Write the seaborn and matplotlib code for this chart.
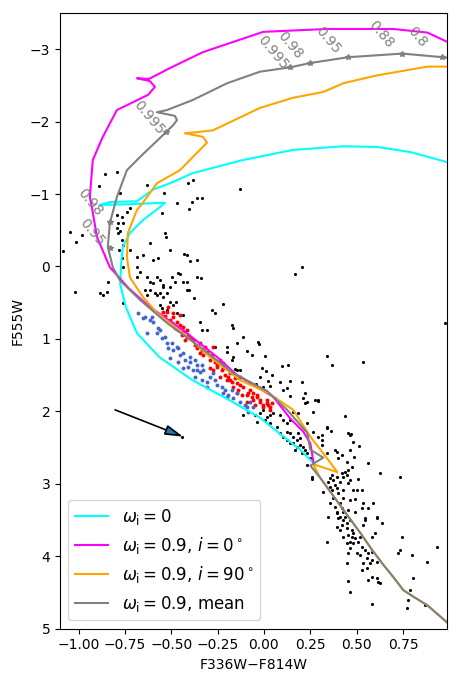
import numpy as np
import pandas as pd
import matplotlib
matplotlib.use("Agg")
import matplotlib.pyplot as plt
import seaborn as sns

# isochrones: colour F336W-F814W, magnitude F555W
cyan_col = [0.99, 0.79, 0.611, 0.428, 0.158, -0.113, -0.383, -0.507, -0.599, -0.685, -0.831, -0.885,
            -0.723, -0.534, -0.561, -0.653, -0.723, -0.761, -0.77, -0.775, -0.745, -0.685, -0.565,
            -0.385, -0.19, -0.02, 0.13, 0.196, 0.262]
cyan_mag = [-1.44, -1.58, -1.65, -1.66, -1.61, -1.47, -1.29, -1.15, -1.06, -0.90, -0.89, -0.85,
            -0.86, -0.88, -0.82, -0.64, -0.46, -0.27, -0.05, 0.25, 0.56, 0.92, 1.25,
            1.57, 1.84, 2.09, 2.40, 2.53, 2.70]

mag_col = [0.99, 0.882, 0.698, 0.342, -0.004, -0.167, -0.329, -0.507, -0.620, -0.685, -0.615, -0.588,
           -0.625, -0.793, -0.869, -0.923, -0.939, -0.928, -0.901, -0.831, -0.73, -0.615, -0.436,
           -0.253, -0.145, 0.05, 0.142, 0.212, 0.25, 0.267]
mag_mag = [-3.10, -3.23, -3.28, -3.28, -3.24, -3.10, -2.96, -2.74, -2.59, -2.60, -2.56, -2.48,
           -2.37, -2.16, -1.79, -1.47, -0.96, -0.82, -0.41, 0.01, 0.30, 0.56, 0.88,
           1.25, 1.50, 1.80, 2.10, 2.28, 2.44, 2.70]

org_col = [0.99, 0.882, 0.612, 0.428, 0.32, 0.158, -0.021, -0.275, -0.345, -0.426, -0.329, -0.307,
           -0.453, -0.577, -0.653, -0.685, -0.734, -0.739, -0.723, -0.653, -0.577, -0.436, -0.291,
           -0.129, 0.017, 0.158, 0.25, 0.32, 0.396, 0.266, 0.304, 0.358, 0.428, 0.52, 0.585, 0.644,
           0.698, 0.752, 0.806, 0.882, 0.99]
org_mag = [-2.76, -2.76, -2.64, -2.53, -2.41, -2.33, -2.19, -1.88, -1.86, -1.84, -1.79, -1.71,
           -1.33, -1.15, -0.88, -0.78, -0.46, -0.13, 0.15, 0.42, 0.64, 0.92, 1.25,
           1.57, 1.74, 1.98, 2.35, 2.58, 2.84, 2.73, 2.92, 3.11, 3.36, 3.68, 3.92, 4.12,
           4.29, 4.47, 4.56, 4.68, 4.92]

gray_col = [0.99, 0.963, 0.747, 0.455, 0.25, 0.142, -0.021, -0.199, -0.383, -0.523, -0.577, -0.48,
            -0.469, -0.49, -0.534, -0.669, -0.739, -0.793, -0.831, -0.842, -0.815, -0.777, -0.669,
            -0.523, -0.345, -0.167, 0.017, 0.125, 0.234, 0.25, 0.32, 0.25, 0.304, 0.358, 0.428,
            0.52, 0.585, 0.644, 0.698, 0.752, 0.806, 0.882, 0.99]
gray_mag = [-2.88, -2.89, -2.94, -2.89, -2.81, -2.75, -2.69, -2.53, -2.30, -2.16, -2.13, -2.08,
            -2.02, -1.95, -1.84, -1.51, -1.33, -0.96, -0.60, -0.27, 0.01, 0.19, 0.46,
            0.78, 1.11, 1.47, 1.72, 1.98, 2.30, 2.53, 2.64, 2.75, 2.92, 3.11, 3.36,
            3.68, 3.92, 4.12, 4.29, 4.47, 4.56, 4.68, 4.92]

# marked points on the mean isochrone and their labels
mark_col = [0.142, 0.25, 0.455, 0.747, 0.963, -0.528, -0.831, -0.831]
mark_mag = [-2.75, -2.81, -2.89, -2.94, -2.89, -1.86, -0.61, -0.26]
lab_col = [0.05, 0.142, 0.347, 0.633, 0.828, -0.62, -0.939, -0.928]
lab_mag = [-2.95, -3.05, -3.13, -3.20, -3.17, -2.05, -0.89, -0.48]
lab_txt = ["0.995", "0.98", "0.95", "0.88", "0.8", "0.995", "0.98", "0.95"]

# cluster members
bk_col = [-0.858, -0.793, -0.890, -0.777, -0.631, -0.539, -0.410, -0.383, -0.129, -0.469, -0.550, -0.404,
          -0.361, -0.334, -0.388, -0.739, -0.723, -0.793, -0.766, -0.788, -0.761, -0.793, -0.788, -0.777,
          -1.047, -0.982, -1.014, -1.085, -0.766, -0.761, -0.782, -0.723, -0.685, -0.653, -0.599, -0.572,
          -0.615, -0.507, -0.534, -0.528, -0.415, -0.361, -0.766, -0.761, -0.685, -0.685, -0.669, -0.631,
          -0.615, -0.577, -0.561, -0.545, -0.496, -0.480, -0.464, -0.415, -0.561, -0.577, -0.545, -0.642,
          -0.631, -0.615, -0.885, -0.869, -1.020, -0.361, -0.842, -0.431, -0.399, -0.453, -0.436, -0.339,
          -0.404, -0.377, 0.169, 0.206, -0.599, -0.545, -0.507, -0.588, -0.523, -0.415, -0.507, -0.491,
          -0.475, -0.561, -0.550, -0.523, -0.577, -0.469, -0.436, -0.761, -0.847, -0.345, -0.280, -0.264,
          -0.221, -0.334, -0.307, -0.264, -0.199, -0.199, -0.167, -0.145, -0.172, -0.167, -0.112, -0.145,
          -0.031, -0.026, -0.091, -0.064, 0.006, -0.172, -0.156, -0.129, -0.010, 0.012, 0.044, 0.098,
          0.131, 0.341, 0.368, -0.021, 0.023, 0.033, 0.088, 0.142, 0.206, -0.004, 0.104, 0.125,
          -0.075, -0.042, 0.142, 0.223, 0.212, 0.234, 0.277, 0.293, 0.060, 0.536, 0.979,
          -0.112, -0.037, -0.021, 0.017, 0.033, 0.050, 0.088, 0.104, 0.125, 0.142, 0.158, 0.185,
          0.071, 0.088, 0.104, 0.125, 0.142, 0.158, 0.179, 0.196, 0.158, 0.179, 0.196, 0.212,
          0.223, 0.234, 0.206, 0.169, 0.250, 0.234, 0.260, 0.223, 0.234, 0.266, -0.442, -0.004,
          0.006, -0.048, 0.033, 0.125, 0.142, 0.185,
          0.266, 0.439, 0.293, 0.293, 0.341, 0.363, 0.315, 0.315, 0.315, 0.341, 0.385, 0.396,
          0.423, 0.401, 0.455, 0.471, 0.482, 0.515, 0.466, 0.487, 0.450, 0.477, 0.455, 0.439,
          0.450, 0.423, 0.428, 0.412, 0.396, 0.369, 0.358, 0.374, 0.347, 0.358, 0.385, 0.396,
          0.369, 0.401, 0.428, 0.455, 0.466, 0.509, 0.482, 0.504, 0.531, 0.320, 0.428, 0.466,
          0.493, 0.374, 0.358, 0.385, 0.412, 0.423, 0.428, 0.455, 0.493, 0.536, 0.563, 0.531,
          0.590, 0.347, 0.396, 0.412, 0.439, 0.612, 0.547, 0.563, 0.628, 0.736, 0.260,
          0.396, 0.401, 0.428, 0.450, 0.466, 0.423, 0.396, 0.412, 0.450, 0.477, 0.482, 0.428,
          0.455, 0.477, 0.493, 0.466, 0.450, 0.482, 0.520, 0.547, 0.536, 0.612, 0.639, 0.601,
          0.585, 0.341, 0.509, 0.531, 0.466, 0.455, 0.504, 0.520, 0.547, 0.563, 0.585, 0.558,
          0.536, 0.574, 0.585, 0.612, 0.531, 0.558, 0.450, 0.585, 0.612, 0.617, 0.628, 0.563,
          0.455, 0.466, 0.747, 0.736, 0.725, 0.801, 0.882, 0.936, 0.806, 0.790, 0.779, 0.585,
          0.774, 0.871, 0.341, 0.466]
bk_mag = [-1.28, -1.31, -1.11, -1.02, -1.13, -1.02, -1.15, -1.19, -1.07, -0.88, -0.74, -0.79,
          -0.95, -0.95, -0.89, -0.75, -0.81, -0.71, -0.68, -0.60, -0.60, -0.53, -0.46, -0.49,
          -0.48, -0.44, -0.34, -0.21, -0.37, -0.30, -0.23, -0.23, -0.13, -0.16, -0.09, -0.12,
          -0.32, -0.23, -0.46, -0.41, -0.16, -0.09, -0.12, 0.01, 0.01, 0.15, 0.08, 0.15,
          0.21, 0.15, 0.19, 0.26, 0.15, 0.21, 0.09, 0.21, 0.37, 0.39, 0.42, 0.32,
          0.39, 0.32, 0.37, 0.39, 0.35, 0.15, 0.21, -0.17, -0.08, 0.10, 0.21, 0.16,
          0.32, 0.44, 0.10, 0.01, 0.23, 0.28, 0.28, 0.37, 0.37, 0.32, 0.49, 0.53,
          0.49, 0.53, 0.57, 0.60, 0.64, 0.64, 0.67, 0.50, 0.35, 0.77, 0.60, 0.64,
          0.52, 0.88, 0.88, 1.11, 1.11, 1.18, 1.25, 1.43, 0.81, 0.85, 0.97, 1.06,
          1.04, 1.07, 1.17, 1.22, 1.24, 1.29, 1.42, 1.43, 1.40, 1.44, 1.50, 1.37,
          1.36, 1.24, 1.36, 1.53, 1.58, 1.65, 1.60, 1.58, 1.60, 1.66, 1.71, 1.68,
          1.61, 1.62, 1.79, 1.75, 1.82, 1.87, 1.84, 1.84, 1.82, 1.32, 0.78,
          2.05, 2.15, 2.02, 2.08, 2.05, 2.02, 2.05, 2.12, 2.16, 2.12, 2.01, 2.02,
          2.22, 2.30, 2.35, 2.29, 2.30, 2.35, 2.40, 2.37, 2.44, 2.49, 2.47, 2.49,
          2.53, 2.58, 2.58, 2.53, 2.65, 2.74, 2.91, 1.89, 2.16, 2.29, 2.35, 1.98,
          2.12, 2.05, 2.16, 2.40, 2.44, 2.30,
          2.01, 2.06, 1.86, 2.35, 2.22, 2.27, 2.33, 2.40, 2.47, 2.58, 2.53, 2.56,
          2.60, 2.65, 2.30, 2.31, 2.42, 2.48, 2.53, 2.63, 2.70, 2.77, 2.81, 2.84,
          2.88, 2.85, 2.91, 2.98, 2.91, 2.88, 2.92, 2.95, 2.98, 3.05, 3.02, 3.06,
          3.09, 3.13, 3.09, 2.99, 2.95, 2.93, 3.09, 3.09, 3.09, 3.11, 3.20, 3.22,
          3.21, 3.20, 3.27, 3.32, 3.27, 3.34, 3.39, 3.36, 3.39, 3.27, 3.34, 3.34,
          3.27, 3.46, 3.40, 3.46, 3.46, 3.46, 3.47, 2.71, 2.85, 2.91, 2.93,
          3.39, 3.47, 3.50, 3.54, 3.50, 3.57, 3.60, 3.64, 3.61, 3.64, 3.68, 3.74,
          3.71, 3.74, 3.75, 3.81, 3.82, 3.82, 3.74, 3.50, 3.57, 3.47, 3.54, 3.68,
          3.74, 3.81, 3.81, 3.88, 3.89, 3.96, 3.96, 3.99, 3.92, 3.96, 3.94, 4.03,
          4.10, 4.10, 4.05, 4.08, 4.19, 4.16, 4.10, 4.29, 4.30, 4.36, 4.37, 4.33,
          4.34, 4.50, 3.74, 3.92, 3.96, 3.99, 4.08, 3.88, 4.30, 4.47, 4.61, 4.66,
          4.72, 4.68, 2.23, 2.33]

red_col = [-0.545, -0.507, -0.491, -0.496, -0.469, -0.453, -0.480, -0.464, -0.436, -0.415, -0.410, -0.442,
           -0.399, -0.383, -0.426, -0.372, -0.345, -0.361, -0.334, -0.318, -0.307, -0.329, -0.345, -0.280,
           -0.291, -0.264, -0.253, -0.237, -0.226, -0.275, -0.210, -0.237, -0.194, -0.172, -0.199, -0.167,
           -0.140, -0.145, -0.291, -0.453, -0.518, -0.534, -0.523, -0.491, -0.436, -0.415, -0.275, -0.237,
           -0.253, -0.221, -0.167, -0.183, -0.145, -0.112, -0.075, -0.091, -0.037, -0.021, -0.004, 0.017,
           0.033, -0.058, -0.129, -0.221, -0.183, -0.156, -0.129, -0.118, -0.085, -0.064, -0.058, -0.037,
           -0.021, -0.004, 0.017, 0.033, -0.048, -0.091, 0.023, 0.044]
red_mag = [0.63, 0.74, 0.70, 0.78, 0.77, 0.81, 0.85, 0.88, 0.90, 0.88, 0.95, 0.95,
           0.99, 1.02, 1.02, 1.08, 1.06, 1.13, 1.15, 1.11, 1.18, 1.22, 1.19, 1.22,
           1.29, 1.32, 1.39, 1.33, 1.43, 1.43, 1.50, 1.53, 1.53, 1.60, 1.57, 1.66,
           1.71, 1.75, 1.40, 0.67, 0.56, 0.68, 0.63, 0.64, 0.84, 0.97, 1.11, 1.29,
           1.36, 1.40, 1.47, 1.57, 1.61, 1.66, 1.71, 1.77, 1.80, 1.84, 1.94, 1.89,
           1.98, 1.75, 1.53, 1.33, 1.47, 1.54, 1.64, 1.77, 1.75, 1.80, 1.84, 1.77,
           1.87, 1.91, 1.84, 1.94, 1.91, 1.87, 1.91, 1.89]

blue_col = [-0.680, -0.653, -0.604, -0.599, -0.631, -0.572, -0.577, -0.561, -0.550, -0.534, -0.518, -0.496,
            -0.491, -0.464, -0.453, -0.436, -0.426, -0.399, -0.410, -0.372, -0.361, -0.334, -0.383, -0.345,
            -0.329, -0.372, -0.334, -0.307, -0.291, -0.264, -0.253, -0.307, -0.226, -0.221, -0.194, -0.172,
            -0.167, -0.210, -0.436, -0.464, -0.507, -0.275, -0.642, -0.615, -0.523, -0.469, -0.399, -0.361,
            -0.199, -0.129, -0.091, -0.085, -0.145, -0.102, -0.075, -0.058]
blue_mag = [0.64, 0.71, 0.70, 0.77, 0.92, 0.85, 0.92, 0.88, 0.99, 0.97, 1.13, 1.06,
            1.15, 1.13, 1.22, 1.19, 1.29, 1.32, 1.39, 1.29, 1.36, 1.36, 1.43, 1.46,
            1.43, 1.53, 1.57, 1.60, 1.53, 1.57, 1.64, 1.66, 1.66, 1.75, 1.77, 1.71,
            1.82, 1.71, 1.40, 1.32, 1.26, 1.47, 0.70, 0.74, 1.06, 1.11, 1.25, 1.43,
            1.80, 1.87, 1.94, 2.01, 1.75, 1.91, 1.87, 1.94]

# reddening vector
arrow_start = (-0.803, 1.98)
arrow_end = (-0.436, 2.35)

fig = plt.figure(figsize=(4.6, 6.82), dpi=100)
ax = fig.add_axes([0.1304, 0.0784, 0.8424, 0.9025])

sns.scatterplot(x=bk_col, y=bk_mag, color="k", s=5, linewidth=0, ax=ax)
sns.scatterplot(x=red_col, y=red_mag, color="red", s=8, linewidth=0, ax=ax)
sns.scatterplot(x=blue_col, y=blue_mag, color="#4466cc", s=8, linewidth=0, ax=ax)

curves = [
    (cyan_col, cyan_mag, "cyan", r"$\omega_{\rm i}=0$"),
    (mag_col, mag_mag, "magenta", r"$\omega_{\rm i}=0.9,\,i=0^\circ$"),
    (org_col, org_mag, "orange", r"$\omega_{\rm i}=0.9,\,i=90^\circ$"),
    (gray_col, gray_mag, "gray", r"$\omega_{\rm i}=0.9$, mean"),
]
for xs, ys, c, lab in curves:
    df = pd.DataFrame({"x": xs, "y": ys})
    sns.lineplot(data=df, x="x", y="y", sort=False, estimator=None, color=c,
                 lw=1.5, label=lab, ax=ax)

ax.plot(mark_col, mark_mag, ls="none", marker="*", ms=4, color="gray")
for tx, ty, t in zip(lab_col, lab_mag, lab_txt):
    ax.text(tx, ty, t, color="gray", fontsize=10, rotation=-50,
            ha="center", va="center")

ax.annotate("", xy=arrow_end, xytext=arrow_start,
            arrowprops=dict(arrowstyle="-|>,head_length=0.9,head_width=0.25",
                            fc="#1f77b4", ec="k", lw=1.2, mutation_scale=12,
                            shrinkA=0, shrinkB=0))

ax.set_xlim(-1.1, 0.99)
ax.set_ylim(5, -3.5)
ax.set_xlabel("F336W\u2212F814W")
ax.set_ylabel("F555W")
ax.legend(loc="lower left", fontsize=12)

fig.savefig("out.png", dpi=100)
